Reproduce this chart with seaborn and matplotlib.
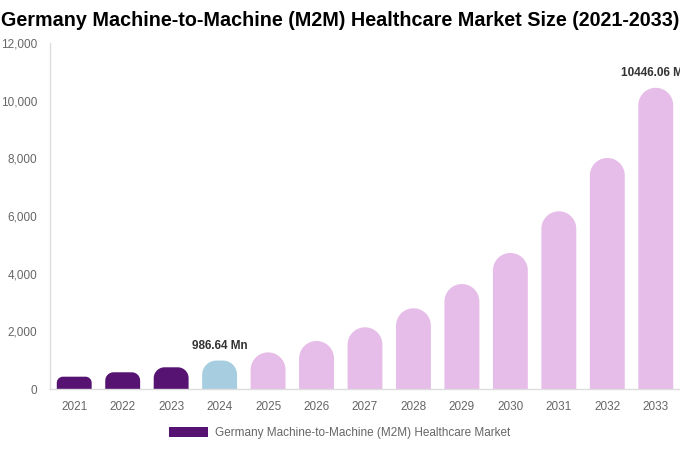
import numpy as np
import pandas as pd
import matplotlib
matplotlib.use("Agg")
import matplotlib.pyplot as plt
import seaborn as sns
from matplotlib.path import Path
from matplotlib.patches import PathPatch, Patch

years = ["2021", "2022", "2023", "2024", "2025", "2026", "2027",
         "2028", "2029", "2030", "2031", "2032", "2033"]
values = [427, 580, 753, 986.64, 1270, 1665, 2140,
          2800, 3640, 4717, 6163, 8012, 10446.06]
phase = ["hist", "hist", "hist", "base", "fc", "fc", "fc",
         "fc", "fc", "fc", "fc", "fc", "fc"]
labels = {"2024": "986.64 Mn", "2033": "10446.06 Mn"}
legend_label = "Germany Machine-to-Machine (M2M) Healthcare Market"
title = "Germany Machine-to-Machine (M2M) Healthcare Market Size (2021-2033)"

colors = {"hist": "#561372", "base": "#a6cde0", "fc": "#e6bce8"}

sns.set_theme(style="white")
plt.rcParams["font.family"] = ["Liberation Sans", "DejaVu Sans"]

df = pd.DataFrame({"year": years, "value": values, "phase": phase})

fig = plt.figure(figsize=(6.8, 4.5), dpi=100)
ax = fig.add_axes([50 / 680, 61 / 450, 630 / 680, 346 / 450])

sns.barplot(data=df, x="year", y="value", hue="phase",
            palette=colors, dodge=False, width=0.72, ax=ax, legend=False,
            saturation=1)

ax.set_xlim(-0.5, 12.5)
ax.set_ylim(0, 12000)
ax.set_yticks(np.arange(0, 12001, 2000))
ax.set_yticklabels([f"{int(v):,}" for v in np.arange(0, 12001, 2000)])
ax.tick_params(axis="both", colors="#666666", labelsize=8.5, length=0)
ax.tick_params(axis="x", pad=9)
ax.tick_params(axis="y", pad=9)
ax.set_xlabel("")
ax.set_ylabel("")
for s in ["top", "right"]:
    ax.spines[s].set_visible(False)
for s in ["left", "bottom"]:
    ax.spines[s].set_color("#dddddd")
    ax.spines[s].set_linewidth(1)

# Replace bars with rounded-top versions
fig.canvas.draw()
to_disp = ax.transData
to_data = ax.transData.inverted()
bars = [p for p in ax.patches]
for p in bars:
    x0, y0 = p.get_x(), p.get_y()
    w, h = p.get_width(), p.get_height()
    if h <= 0:
        continue
    fc = p.get_facecolor()
    p.set_visible(False)
    (dx0, dy0) = to_disp.transform((x0, y0))
    (dx1, dy1) = to_disp.transform((x0 + w, y0 + h))
    pw = dx1 - dx0
    ph = dy1 - dy0
    r = min(pw / 2, ph / 2)
    pts = [(dx0, dy0), (dx1, dy0), (dx1, dy1 - r)]
    th = np.linspace(0, np.pi / 2, 20)
    cx, cy = dx1 - r, dy1 - r
    pts += [(cx + r * np.cos(t), cy + r * np.sin(t)) for t in th]
    cx = dx0 + r
    pts += [(cx + r * np.cos(t), cy + r * np.sin(t)) for t in th + np.pi / 2]
    pts += [(dx0, dy0)]
    dpts = to_data.transform(np.array(pts))
    path = Path(dpts, closed=True)
    ax.add_patch(PathPatch(path, facecolor=fc, edgecolor="none", zorder=2))

for i, yr in enumerate(years):
    if yr in labels:
        ax.annotate(labels[yr], xy=(i, values[i]), xytext=(0, 6),
                    textcoords="offset points", ha="center", va="bottom",
                    fontsize=8.5, fontweight="bold", color="#333333",
                    annotation_clip=False)

fig.text(0.5, 1 - 21 / 450, title, ha="center", va="center",
         fontsize=14.2, fontweight="bold", color="#000000")

handle = Patch(facecolor=colors["hist"], edgecolor="none")
leg = fig.legend([handle], [legend_label], loc="center",
                 bbox_to_anchor=(340 / 680, 1 - 433 / 450), frameon=False,
                 fontsize=8.5, handlelength=3.3, handleheight=1.0,
                 handletextpad=0.6)
for t in leg.get_texts():
    t.set_color("#666666")

fig.savefig("out.png", dpi=100)
